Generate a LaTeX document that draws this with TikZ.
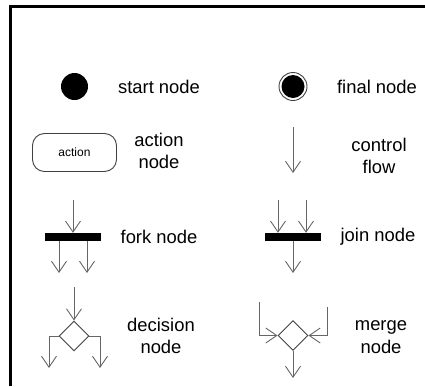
\documentclass[tikz,border=0pt]{standalone}
\usepackage{fontspec}
\setmainfont{Liberation Sans}
\usetikzlibrary{arrows.meta,shapes.geometric}
\tikzset{
  lbl/.style={font=\fontsize{18.4}{22.5}\selectfont, align=center, inner sep=0pt},
  flow/.style={draw=black!60, line width=0.9pt, -{Straight Barb[length=11pt,width=15pt]}},
  dot/.style={circle, fill=black, minimum size=27pt, inner sep=0pt},
  ring/.style={circle, draw=black!75, line width=0.9pt, fill=white, minimum size=28pt, inner sep=0pt},
  actionbox/.style={draw=black!75, line width=0.9pt, rounded corners=12pt, minimum width=84pt, minimum height=38pt, font=\fontsize{12}{14}\selectfont},
  bar/.style={fill=black, minimum width=56pt, minimum height=8pt, inner sep=0pt},
  diam/.style={diamond, draw=black!75, line width=0.9pt, minimum width=30pt, minimum height=30pt, inner sep=0pt},
  frame/.style={line width=2.6pt}
}
\begin{document}
\begin{tikzpicture}[x=1pt, y=-1pt]
  \useasboundingbox (0,0) rectangle (425,386);
  % frame
  \coordinate (fbl) at (10.5,386);
  \coordinate (ftl) at (10.5,6.5);
  \coordinate (ftr) at (425,6.5);
  \draw[frame] (fbl) -- (ftl) -- (ftr);

  % start and final
  \node[dot] (start) at (74.5,86.5) {};
  \node[lbl] (startlbl) at (159,87) {start node};
  \node[ring] (final) at (293,86.5) {};
  \node[dot, minimum size=23pt] (finalcore) at (final) {};
  \node[lbl] (finallbl) at (377,87) {final node};

  % action and control flow
  \node[actionbox] (action) at (74.5,152.5) {action};
  \node[lbl] (actionlbl) at (159,151) {action\\node};
  \coordinate (cftop) at (293,127);
  \coordinate (cfbot) at (293,173);
  \draw[flow] (cftop) -- (cfbot);
  \node[lbl] (cflbl) at (379,156) {control\\flow};

  % fork
  \node[bar] (fork) at (73,237) {};
  \coordinate (forkin) at (73,200);
  \coordinate (forkout1) at (59,273);
  \coordinate (forkout2) at (87,273);
  \draw[flow] (forkin) -- (fork.north);
  \draw[flow] (fork.south -| forkout1) -- (forkout1);
  \draw[flow] (fork.south -| forkout2) -- (forkout2);
  \node[lbl] (forklbl) at (159,237) {fork node};

  % join
  \node[bar] (join) at (292.5,237) {};
  \coordinate (joinin1) at (278,200);
  \coordinate (joinin2) at (306,200);
  \coordinate (joinout) at (293,273);
  \draw[flow] (joinin1) -- (joinin1 |- join.north);
  \draw[flow] (joinin2) -- (joinin2 |- join.north);
  \draw[flow] (join.south -| joinout) -- (joinout);
  \node[lbl] (joinlbl) at (378,237) {join node};

  % decision
  \node[diam] (dec) at (74,336) {};
  \coordinate (decin) at (74,287);
  \coordinate (decout1) at (49,368);
  \coordinate (decout2) at (100,368);
  \draw[flow] (decin) -- (dec.north);
  \draw[flow] (dec.west) -| (decout1);
  \draw[flow] (dec.east) -| (decout2);
  \node[lbl] (declbl) at (161,336) {decision\\node};

  % merge
  \node[diam] (merge) at (293,335.5) {};
  \coordinate (mergein1) at (259,302);
  \coordinate (mergein2) at (327,307);
  \coordinate (mergeout) at (293,378);
  \draw[flow] (mergein1) |- (merge.west);
  \draw[flow] (mergein2) |- (merge.east);
  \draw[flow] (merge.south) -- (mergeout);
  \node[lbl] (mergelbl) at (381,337) {merge\\node};
\end{tikzpicture}
\end{document}
